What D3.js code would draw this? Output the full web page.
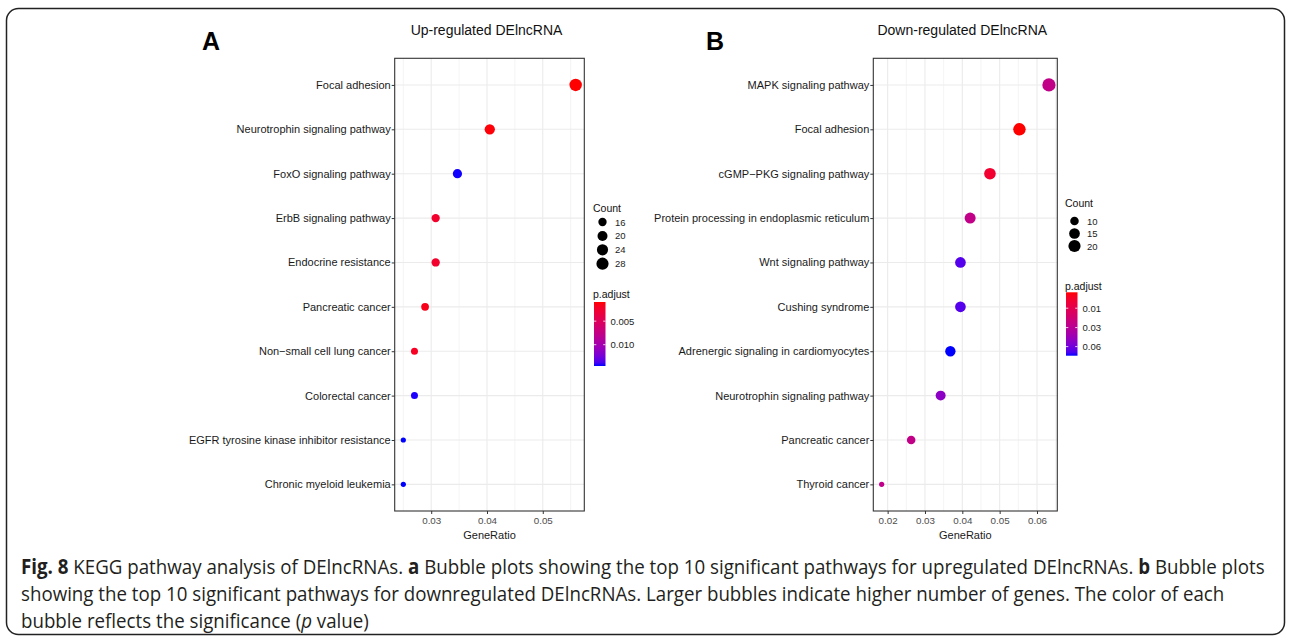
<!DOCTYPE html>
<html>
<head>
<meta charset="utf-8">
<script src="https://cdn.jsdelivr.net/npm/d3@7"></script>
<style>
  body { margin: 0; background: #fff; }
  svg text { font-family: "Liberation Sans", Arial, sans-serif; }
  .caption text { font-family: "Open Sans", "Noto Sans", sans-serif; }
</style>
</head>
<body>
<div id="figure"></div>
<script>

// ==================================================================================================
// DATA : UP-REGULATED (PANEL A) AND DOWN-REGULATED (PANEL B) KEGG PATHWAYS
// ==================================================================================================

var upPathways = [
  "Focal adhesion",
  "Neurotrophin signaling pathway",
  "FoxO signaling pathway",
  "ErbB signaling pathway",
  "Endocrine resistance",
  "Pancreatic cancer",
  "Non\u2212small cell lung cancer",
  "Colorectal cancer",
  "EGFR tyrosine kinase inhibitor resistance",
  "Chronic myeloid leukemia"
];
var upGeneRatio = [0.0559, 0.0405, 0.0347, 0.0308, 0.0308, 0.0289, 0.0270, 0.0270, 0.0250, 0.0250];
var upCount = [29, 21, 18, 16, 16, 15, 14, 14, 13, 13];
var upPadjust = [0.0022, 0.0023, 0.0159, 0.0031, 0.0031, 0.0026, 0.0028, 0.0158, 0.0160, 0.0160];
var upRatioTicks = [0.03, 0.04, 0.05];
var upCountBreaks = [16, 20, 24, 28];
var upPadjustBreaks = [0.005, 0.010];
var upPadjustLabels = ["0.005", "0.010"];

var downPathways = [
  "MAPK signaling pathway",
  "Focal adhesion",
  "cGMP\u2212PKG signaling pathway",
  "Protein processing in endoplasmic reticulum",
  "Wnt signaling pathway",
  "Cushing syndrome",
  "Adrenergic signaling in cardiomyocytes",
  "Neurotrophin signaling pathway",
  "Pancreatic cancer",
  "Thyroid cancer"
];
var downGeneRatio = [0.0632, 0.0553, 0.0474, 0.0421, 0.0395, 0.0395, 0.0368, 0.0342, 0.0263, 0.0184];
var downCount = [24, 21, 18, 16, 15, 15, 14, 13, 10, 7];
var downPadjust = [0.0254, 0.0016, 0.0047, 0.0250, 0.0680, 0.0680, 0.0780, 0.0500, 0.0250, 0.0262];
var downRatioTicks = [0.02, 0.03, 0.04, 0.05, 0.06];
var downCountBreaks = [10, 15, 20];
var downPadjustBreaks = [0.01, 0.03, 0.06];
var downPadjustLabels = ["0.01", "0.03", "0.06"];


// ==================================================================================================
// LAYOUT OF THE TWO PANELS
// ==================================================================================================

var svgWidth = 1292;
var svgHeight = 641;

var panels = [
  {
    letter: "A", letterX: 211, title: "Up-regulated DElncRNA",
    pathways: upPathways, ratio: upGeneRatio, count: upCount, padj: upPadjust,
    ticks: upRatioTicks, countBreaks: upCountBreaks, padjBreaks: upPadjustBreaks, padjLabels: upPadjustLabels,
    left: 394.7, right: 584.3, rMin: 2.6, rMax: 6.2,
    legendX: 593, countTitleY: 212, countRow0: 222, countStep: 13.9,
    barTitleY: 298, barTop: 302, barBottom: 366
  },
  {
    letter: "B", letterX: 715, title: "Down-regulated DElncRNA",
    pathways: downPathways, ratio: downGeneRatio, count: downCount, padj: downPadjust,
    ticks: downRatioTicks, countBreaks: downCountBreaks, padjBreaks: downPadjustBreaks, padjLabels: downPadjustLabels,
    left: 873.3, right: 1057.3, rMin: 2.6, rMax: 6.6,
    legendX: 1065, countTitleY: 207, countRow0: 221, countStep: 12.5,
    barTitleY: 290, barTop: 292.3, barBottom: 355.7
  }
];

var plotTop = 58.3;
var plotBottom = 511;

var svg = d3.select("#figure").append("svg")
  .attr("width", svgWidth)
  .attr("height", svgHeight);

var defs = svg.append("defs");

// outer rounded frame
svg.append("rect")
  .attr("x", 6.5).attr("y", 8.5)
  .attr("width", 1278).attr("height", 626)
  .attr("rx", 12)
  .attr("fill", "none")
  .attr("stroke", "#222")
  .attr("stroke-width", 1.5);


// ==================================================================================================
// FUNCTION TO DRAW ONE BUBBLE PLOT
// ==================================================================================================

var drawPanel = (p, idx) => {
  var g = svg.append("g");

  var rows = p.pathways.map((name, i) => ({
    name: name, ratio: p.ratio[i], count: p.count[i], padj: p.padj[i]
  }));

  // scales
  var xMin = d3.min(p.ratio), xMax = d3.max(p.ratio);
  var pad = (xMax - xMin) * 0.05;
  var x = d3.scaleLinear().domain([xMin - pad, xMax + pad]).range([p.left, p.right]);

  var y = d3.scalePoint().domain(p.pathways).range([plotTop, plotBottom]).padding(0.6);

  var cMin = d3.min(p.count), cMax = d3.max(p.count);
  var sizeCore = d3.scaleSqrt().domain([0, cMax - cMin]).range([0, p.rMax - p.rMin]);
  var size = c => p.rMin + sizeCore(Math.max(0, c - cMin));

  var pExtent = d3.extent(p.padj);
  var color = d3.scaleSequentialSqrt(d3.interpolateLab("red", "blue")).domain(pExtent);

  // grid
  var step = p.ticks[1] - p.ticks[0];
  var minor = d3.range(p.ticks[0] - step / 2, x.domain()[1], step).filter(v => v > x.domain()[0]);

  g.append("g").selectAll("line")
    .data(minor).enter().append("line")
    .attr("x1", d => x(d)).attr("x2", d => x(d))
    .attr("y1", plotTop).attr("y2", plotBottom)
    .attr("stroke", "#ededed").attr("stroke-width", 0.6);

  g.append("g").selectAll("line")
    .data(p.ticks).enter().append("line")
    .attr("x1", d => x(d)).attr("x2", d => x(d))
    .attr("y1", plotTop).attr("y2", plotBottom)
    .attr("stroke", "#ebebeb").attr("stroke-width", 1.1);

  g.append("g").selectAll("line")
    .data(p.pathways).enter().append("line")
    .attr("x1", p.left).attr("x2", p.right)
    .attr("y1", d => y(d)).attr("y2", d => y(d))
    .attr("stroke", "#ebebeb").attr("stroke-width", 1.1);

  // points
  g.append("g").selectAll("circle")
    .data(rows).enter().append("circle")
    .attr("cx", d => x(d.ratio))
    .attr("cy", d => y(d.name))
    .attr("r", d => size(d.count))
    .attr("fill", d => color(d.padj));

  // panel border
  g.append("rect")
    .attr("x", p.left).attr("y", plotTop)
    .attr("width", p.right - p.left).attr("height", plotBottom - plotTop)
    .attr("fill", "none").attr("stroke", "#333").attr("stroke-width", 1.1);

  // axes
  var xAxis = g.append("g")
    .attr("transform", `translate(0, ${plotBottom})`)
    .call(d3.axisBottom(x).tickValues(p.ticks).tickSize(3).tickPadding(3).tickFormat(d3.format(".2f")));
  xAxis.select(".domain").remove();
  xAxis.selectAll("line").attr("stroke", "#333");
  xAxis.selectAll("text").attr("font-size", 9.8).attr("fill", "#4d4d4d")
    .style("font-family", '"Liberation Sans", Arial, sans-serif');

  var yAxis = g.append("g")
    .attr("transform", `translate(${p.left}, 0)`)
    .call(d3.axisLeft(y).tickSize(3).tickPadding(1));
  yAxis.select(".domain").remove();
  yAxis.selectAll("line").attr("stroke", "#333");
  yAxis.selectAll("text").attr("font-size", 11).attr("fill", "#1a1a1a")
    .style("font-family", '"Liberation Sans", Arial, sans-serif');

  // axis title
  g.append("text")
    .attr("x", (p.left + p.right) / 2).attr("y", 539)
    .attr("text-anchor", "middle").attr("font-size", 11).attr("fill", "#1a1a1a")
    .text("GeneRatio");

  // plot title and panel letter
  g.append("text")
    .attr("x", (p.left + p.right) / 2 - 3).attr("y", 35)
    .attr("text-anchor", "middle").attr("font-size", 14).attr("fill", "#111")
    .text(p.title);

  g.append("text")
    .attr("x", p.letterX).attr("y", 49.5)
    .attr("text-anchor", "middle").attr("font-size", 25).attr("font-weight", "bold").attr("fill", "#000")
    .text(p.letter);

  // size legend
  var lg = g.append("g");
  lg.append("text")
    .attr("x", p.legendX).attr("y", p.countTitleY)
    .attr("font-size", 10.5).attr("fill", "#111")
    .text("Count");

  p.countBreaks.forEach((c, i) => {
    var cy = p.countRow0 + i * p.countStep;
    lg.append("circle")
      .attr("cx", p.legendX + 9.5).attr("cy", cy)
      .attr("r", size(c)).attr("fill", "#000");
    lg.append("text")
      .attr("x", p.legendX + 22).attr("y", cy + 3.5)
      .attr("font-size", 9.5).attr("fill", "#222")
      .text(c);
  });

  // colour bar legend
  lg.append("text")
    .attr("x", p.legendX).attr("y", p.barTitleY)
    .attr("font-size", 10.5).attr("fill", "#111")
    .text("p.adjust");

  var gradId = "grad" + idx;
  var grad = defs.append("linearGradient")
    .attr("id", gradId)
    .attr("x1", 0).attr("y1", 0).attr("x2", 0).attr("y2", 1);
  d3.range(0, 1.0001, 0.05).forEach(t => {
    grad.append("stop")
      .attr("offset", t)
      .attr("stop-color", d3.interpolateLab("red", "blue")(t));
  });

  var barX = p.legendX + 1;
  var barW = 11.5;
  lg.append("rect")
    .attr("x", barX).attr("y", p.barTop)
    .attr("width", barW).attr("height", p.barBottom - p.barTop)
    .attr("fill", `url(#${gradId})`);

  var barScale = d3.scaleSqrt().domain(pExtent).range([p.barTop, p.barBottom]);
  p.padjBreaks.forEach((v, i) => {
    var by = barScale(v);
    lg.append("line")
      .attr("x1", barX).attr("x2", barX + 2.3)
      .attr("y1", by).attr("y2", by)
      .attr("stroke", "#fff").attr("stroke-width", 0.8);
    lg.append("line")
      .attr("x1", barX + barW - 2.3).attr("x2", barX + barW)
      .attr("y1", by).attr("y2", by)
      .attr("stroke", "#fff").attr("stroke-width", 0.8);
    lg.append("text")
      .attr("x", barX + barW + 5).attr("y", by + 3.5)
      .attr("font-size", 9.5).attr("fill", "#222")
      .text(p.padjLabels[i]);
  });
};

panels.forEach((p, i) => drawPanel(p, i));


// ==================================================================================================
// FIGURE CAPTION (each line squeezed horizontally to the width it has in the figure)
// ==================================================================================================

var captionLines = [
  [["Fig. 8", "b"], [" KEGG pathway analysis of DElncRNAs. ", ""], ["a", "b"],
   [" Bubble plots showing the top 10 significant pathways for upregulated DElncRNAs. ", ""], ["b", "b"], [" Bubble plots", ""]],
  [["showing the top 10 significant pathways for downregulated DElncRNAs. Larger bubbles indicate higher number of genes. The color of each", ""]],
  [["bubble reflects the significance (", ""], ["p", "i"], [" value)", ""]]
];
var captionWidths = [1244, 1203, null];
var captionBaselines = [574, 601, 628];

var cap = svg.append("g").attr("class", "caption");
var kSum = 0, kN = 0;
var capTexts = captionLines.map((parts, i) => {
  var lineG = cap.append("g");
  var t = lineG.append("text")
    .attr("x", 0).attr("y", 0)
    .attr("font-size", 20.5).attr("fill", "#231f20");
  parts.forEach(pt => {
    var ts = t.append("tspan").text(pt[0]);
    if (pt[1] === "b") ts.attr("font-weight", "bold");
    if (pt[1] === "i") ts.attr("font-style", "italic");
  });
  var natural = t.node().getComputedTextLength();
  if (captionWidths[i]) { kSum += captionWidths[i] / natural; kN += 1; }
  return { g: lineG, natural: natural };
});
var kAvg = kSum / kN;
capTexts.forEach((c, i) => {
  var k = captionWidths[i] ? captionWidths[i] / c.natural : kAvg;
  c.g.attr("transform", `translate(21, ${captionBaselines[i]}) scale(${k}, 1)`);
});

</script>
</body>
</html>
